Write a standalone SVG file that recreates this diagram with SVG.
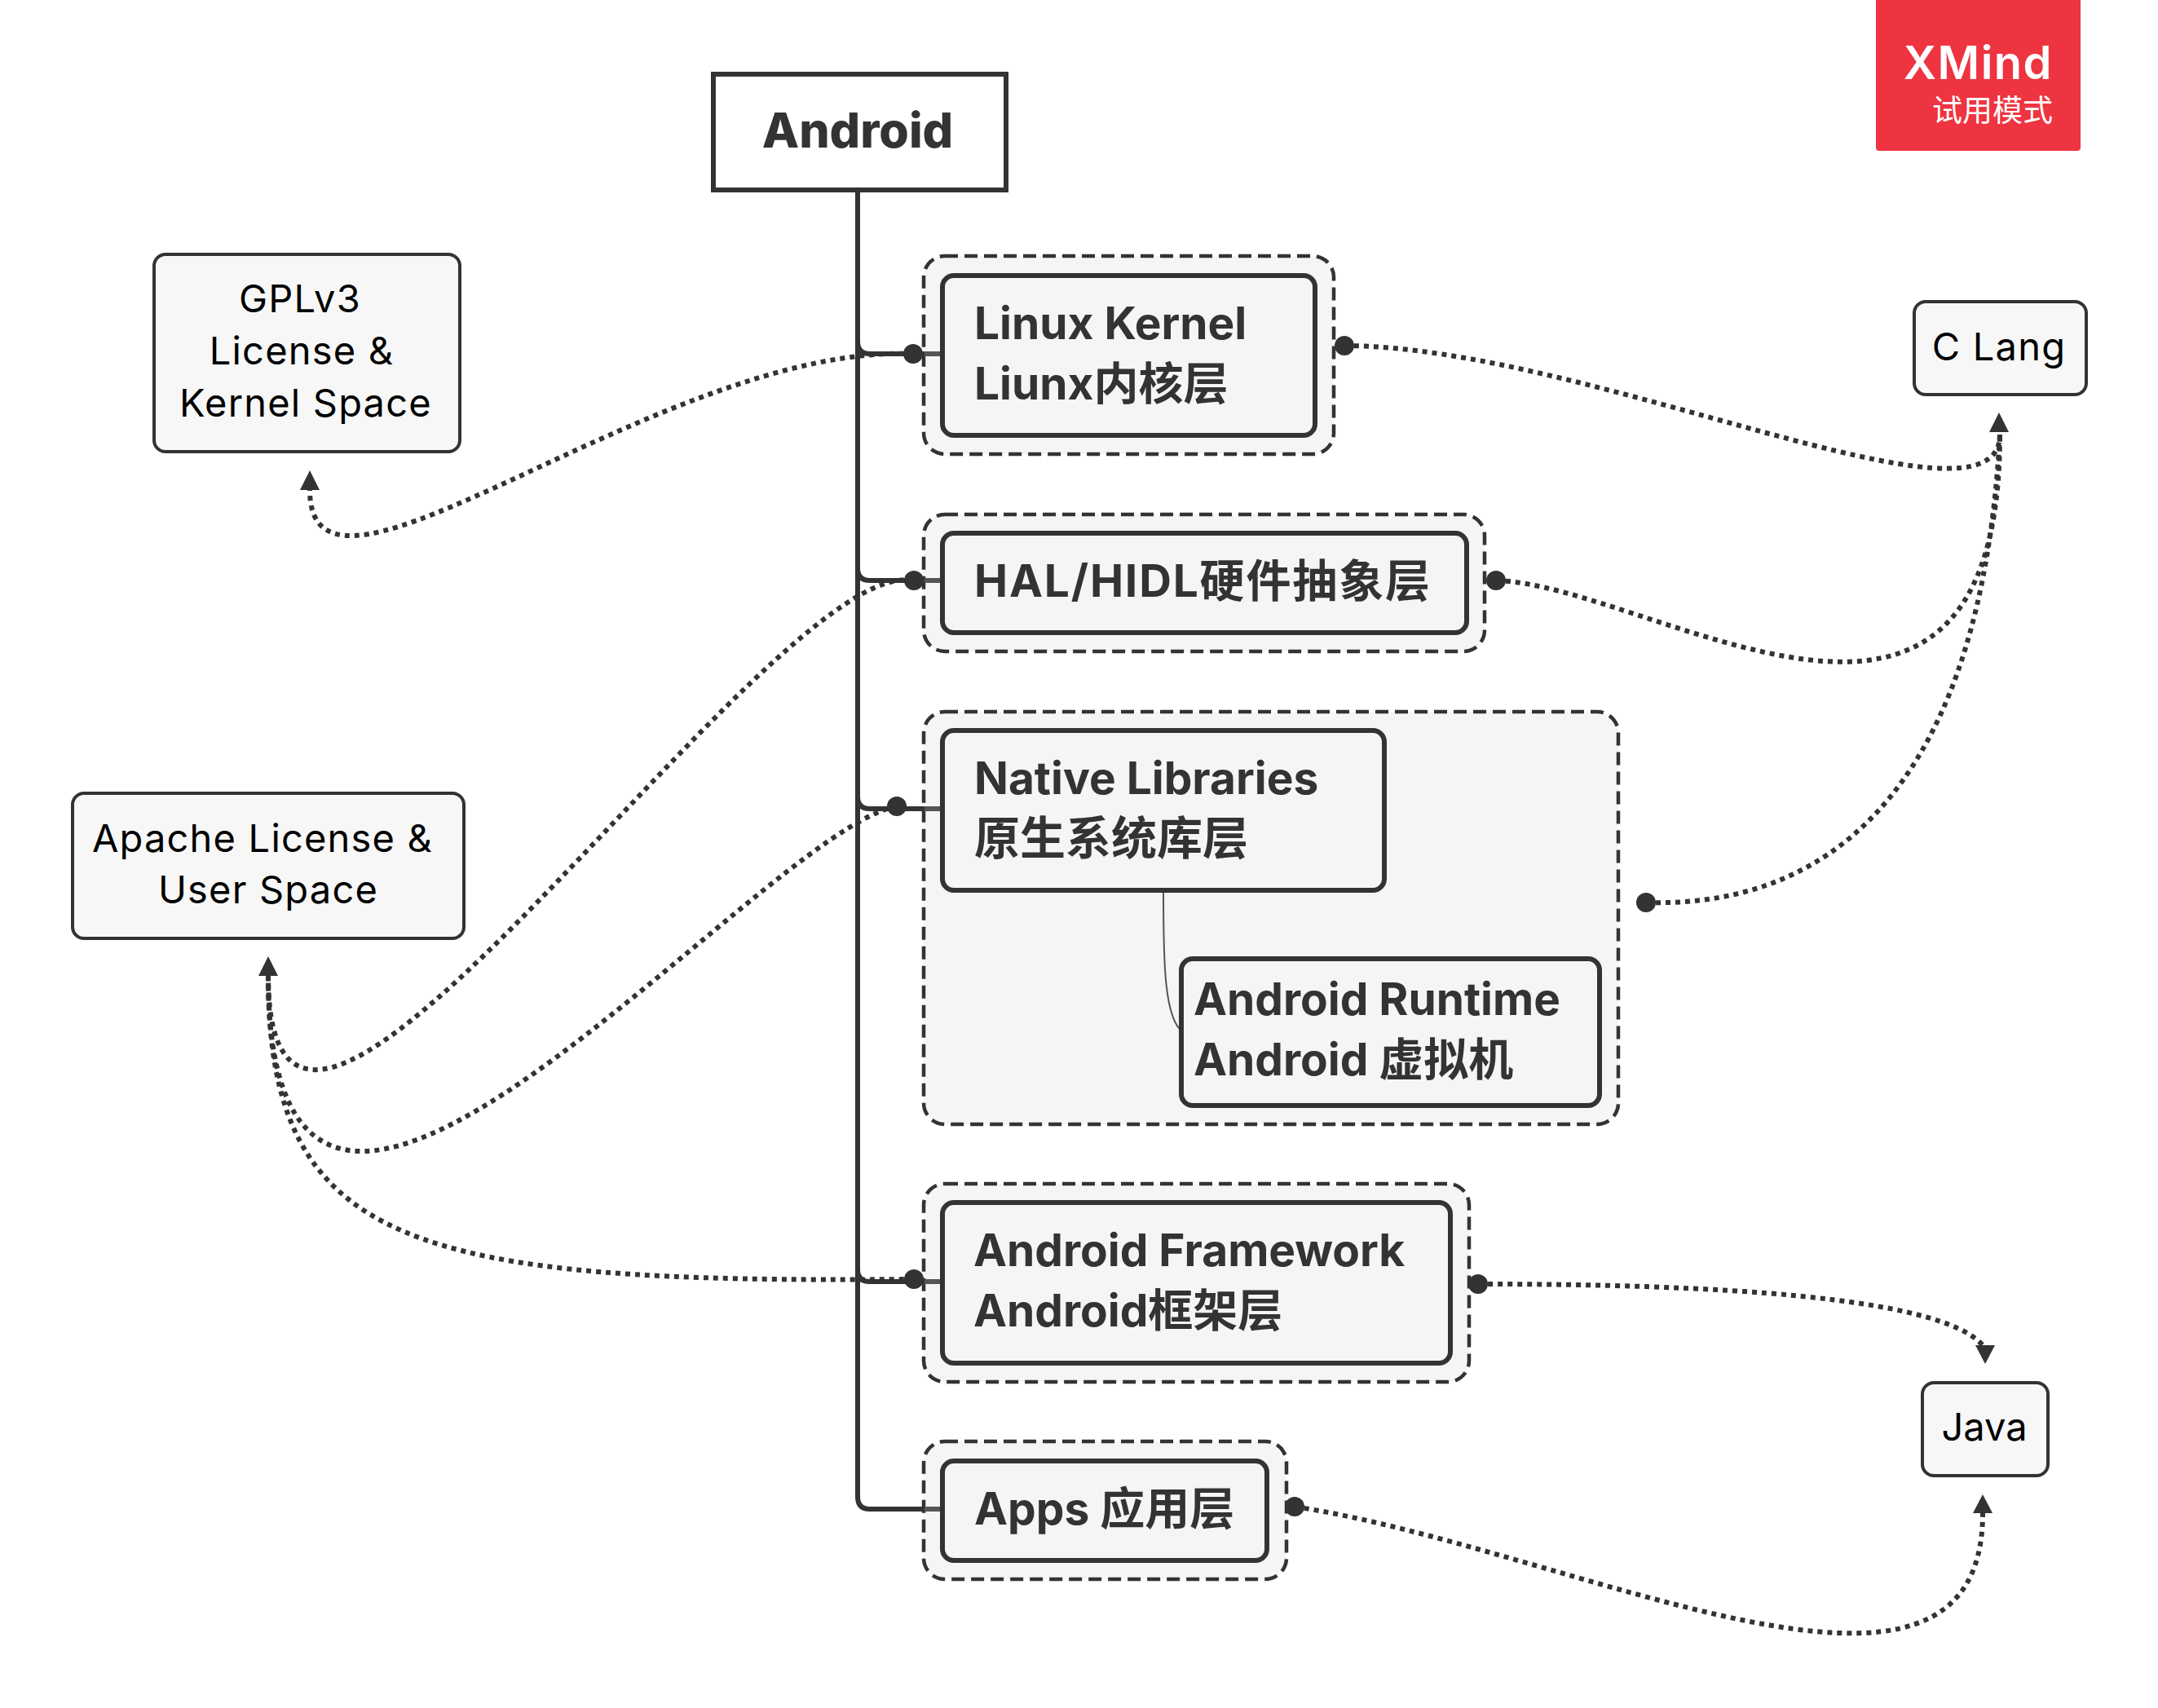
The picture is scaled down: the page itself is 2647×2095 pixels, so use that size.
<svg xmlns="http://www.w3.org/2000/svg" width="2647" height="2095" viewBox="0 0 2647 2095">
<defs>
<style>
.frame{fill:#f5f5f5;stroke:#333;stroke-width:4.5;stroke-dasharray:16 8}
.topic{fill:#f5f5f5;stroke:#333;stroke-width:6}
.note{fill:#f7f7f7;stroke:#333;stroke-width:4}
.b{font-family:Inter,"Noto Sans CJK SC",sans-serif;font-weight:700;font-size:55px;fill:#333}
.r{font-family:Inter,"Noto Sans CJK SC",sans-serif;font-weight:400;font-size:47px;letter-spacing:1.2px;fill:#000}
.branch{fill:none;stroke:#333;stroke-width:6}
.stub{fill:none;stroke:#555;stroke-width:6}
.rel{fill:none;stroke:#333;stroke-width:6;stroke-dasharray:6 6}
.dot{fill:#333}
.tip{fill:#333}
</style>
</defs>
<rect width="2647" height="2095" fill="#fff"/>
<g id="watermark">
<path d="M2301 0H2552V181a4 4 0 0 1-4 4H2305a4 4 0 0 1-4-4Z" fill="#ee3440"/>
<text x="2518" y="97" text-anchor="end" style="font-family:Inter,sans-serif;font-weight:600;font-size:56px;letter-spacing:1.5px;fill:#fff">XMind</text>
<text x="2518" y="149" text-anchor="end" style="font-family:'Noto Sans CJK SC',sans-serif;font-size:37px;fill:#fff">试用模式</text>
</g>
<g id="boundaries">
<rect id="b-linux" class="frame" x="1133" y="314" width="503" height="243" rx="26"/>
<rect id="b-hal" class="frame" x="1133" y="631" width="688" height="168" rx="26"/>
<rect id="b-native" class="frame" x="1133" y="873" width="852" height="506" rx="26"/>
<rect id="b-framework" class="frame" x="1133" y="1452" width="669" height="243" rx="26"/>
<rect id="b-apps" class="frame" x="1133" y="1768" width="445" height="169" rx="26"/>
</g>
<g id="connectors">
<path class="branch" d="M1052 233V1836Q1052 1851 1067 1851H1134"/>
<path class="branch" d="M1052 419Q1052 434 1067 434H1134"/>
<path class="branch" d="M1052 697Q1052 712 1067 712H1134"/>
<path class="branch" d="M1052 977Q1052 992 1067 992H1134"/>
<path class="branch" d="M1052 1557Q1052 1572 1067 1572H1134"/>
<path class="stub" d="M1134 434H1156M1134 712H1156M1134 992H1156M1134 1572H1156M1134 1851H1156"/>
<path d="M1427 1093C1427 1180 1428 1250 1451 1266" fill="none" stroke="#555" stroke-width="2"/>
<path class="rel" d="M1120 434C810 422 380 795 380 601"/>
<path class="rel" d="M1120 712C945 680 329 1635 329 1197"/>
<path class="rel" d="M1100 989C930 1020 329 1770 329 1197"/>
<path class="rel" d="M1121 1569C506 1575 329 1530 329 1197"/>
<path class="rel" d="M1649 424C1950 425 2453 670 2453 533"/>
<path class="rel" d="M1835 712C2025 717 2453 1025 2453 533"/>
<path class="rel" d="M2019 1107C2262 1114 2431 945 2453 533"/>
<path class="rel" d="M1813 1575C2100 1575 2380 1590 2432 1650"/>
<path class="rel" d="M1588 1848C1930 1900 2432 2165 2432 1856"/>
<circle class="dot" cx="1120" cy="434" r="12"/>
<circle class="dot" cx="1121" cy="712" r="12"/>
<circle class="dot" cx="1100" cy="989" r="12"/>
<circle class="dot" cx="1121" cy="1569" r="12"/>
<circle class="dot" cx="1649" cy="424" r="12"/>
<circle class="dot" cx="1835" cy="712" r="12"/>
<circle class="dot" cx="2019" cy="1107" r="12"/>
<circle class="dot" cx="1813" cy="1575" r="12"/>
<circle class="dot" cx="1588" cy="1848" r="12"/>
<path class="tip" d="M380 577L392 601H368Z"/>
<path class="tip" d="M329 1173L341 1197H317Z"/>
<path class="tip" d="M2452 506L2464 530H2440Z"/>
<path class="tip" d="M2435 1673L2423 1650H2447Z"/>
<path class="tip" d="M2432 1833L2444 1856H2420Z"/>
</g>
<g id="android"><rect x="875" y="91" width="359" height="142" fill="#fff" stroke="#333" stroke-width="6"/><text class="b" x="1052" y="181" text-anchor="middle" style="font-size:59px;font-weight:800">Android</text></g>
<g id="linux"><rect class="topic" x="1156" y="338" width="457" height="196" rx="14"/><text class="b" x="1195" y="416">Linux Kernel</text><text class="b" x="1195" y="490">Liunx内核层</text></g>
<g id="hal"><rect class="topic" x="1156" y="654" width="643" height="122" rx="14"/><text class="b" x="1195" y="732" textLength="559" lengthAdjust="spacing">HAL/HIDL硬件抽象层</text></g>
<g id="native"><rect class="topic" x="1156" y="896" width="542" height="196" rx="14"/><text class="b" x="1195" y="974">Native Libraries</text><text class="b" x="1195" y="1048" style="font-size:56px">原生系统库层</text></g>
<g id="runtime"><rect class="topic" x="1449" y="1176" width="513" height="180" rx="14"/><text class="b" x="1464" y="1245">Android Runtime</text><text class="b" x="1464" y="1319">Android 虚拟机</text></g>
<g id="framework"><rect class="topic" x="1156" y="1475" width="623" height="197" rx="14"/><text class="b" x="1194" y="1553">Android Framework</text><text class="b" x="1194" y="1627">Android框架层</text></g>
<g id="apps"><rect class="topic" x="1156" y="1792" width="398" height="122" rx="14"/><text class="b" x="1195" y="1870">Apps 应用层</text></g>
<g id="gpl"><rect class="note" x="189" y="312" width="375" height="242" rx="14"/><text class="r" x="368" y="383" text-anchor="middle">GPLv3</text><text class="r" x="370" y="447" text-anchor="middle">License &amp;</text><text class="r" x="375" y="511" text-anchor="middle">Kernel Space</text></g>
<g id="apache"><rect class="note" x="89" y="973" width="480" height="178" rx="14"/><text class="r" x="322" y="1045" text-anchor="middle">Apache License &amp;</text><text class="r" x="329" y="1108" text-anchor="middle">User Space</text></g>
<g id="clang"><rect class="note" x="2348" y="370" width="211" height="114" rx="14"/><text class="r" x="2452" y="442" text-anchor="middle">C Lang</text></g>
<g id="java"><rect class="note" x="2358" y="1696" width="154" height="114" rx="14"/><text class="r" x="2434" y="1767" text-anchor="middle" style="letter-spacing:0">Java</text></g>
</svg>
